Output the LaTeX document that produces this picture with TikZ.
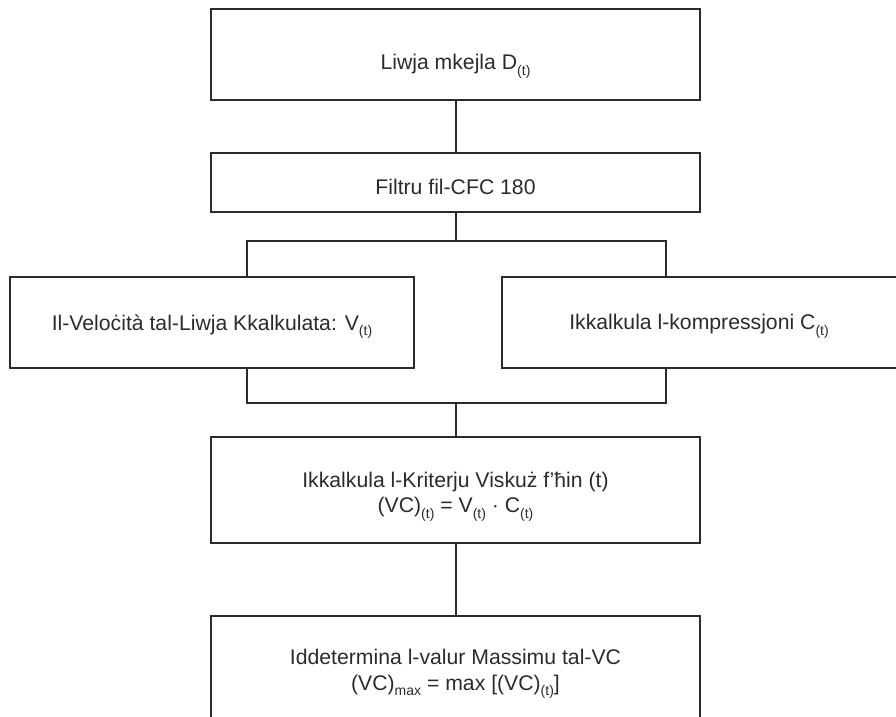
\documentclass[tikz,border=0pt]{standalone}
\usepackage{fontspec}
\setmainfont{Liberation Sans}
\usepackage{xcolor}
\usepackage{tikz}
\usetikzlibrary{positioning}
\definecolor{inkgray}{HTML}{2B2B2B}
\newcommand{\lowsub}[1]{\raisebox{-2.6pt}[0pt][0pt]{\fontsize{7}{8}\selectfont #1}}
\newcommand{\sinkby}[2]{\raisebox{-#1}[\height][\depth]{#2}}
\tikzset{flowbox/.style={rectangle, draw=inkgray, line width=1pt, text=inkgray, align=center, inner sep=0pt, font=\fontsize{10.6}{12.8}\selectfont}}

\begin{document}
\begin{tikzpicture}[x=0.5pt, y=-0.5pt]
\useasboundingbox (0,0) rectangle (896,717);

\begin{scope}[every node/.style={flowbox}]
\node[minimum width=244.5pt, minimum height=45.5pt] (track) at (455.5,54.5) {\sinkby{5pt}{Liwja mkejla D\lowsub{(t)}}};
\node[minimum width=244.5pt, minimum height=29.5pt] (filter) at (455.5,182.5) {\sinkby{2pt}{Filtru fil-CFC 180}};
\node[minimum width=202pt, minimum height=45.5pt] (velo) at (212,322.5) {\sinkby{1pt}{Il-Veloċità tal-Liwja Kkalkulata: V\lowsub{(t)}}};
\node[minimum width=200pt, minimum height=45.5pt] (compr) at (702,322.5) {\hspace*{-3pt}\sinkby{1pt}{Ikkalkula l-kompressjoni C\lowsub{(t)}}};
\node[minimum width=244.5pt, minimum height=53pt] (vcrit) at (455.5,490) {\sinkby{2.3pt}{Ikkalkula l-Kriterju Viskuż f’ħin (t)}\\\sinkby{2.3pt}{(VC)\lowsub{(t)} = V\lowsub{(t)} · C\lowsub{(t)}}};
\node[minimum width=244.5pt, minimum height=54pt] (vcmax) at (455.5,670) {\sinkby{1.1pt}{Iddetermina l-valur Massimu tal-VC}\\\sinkby{1.1pt}{(VC)\lowsub{max} = max [(VC)\lowsub{(t)}]}};
\end{scope}

% split and join points
\coordinate (splitL) at (247,241.5);
\coordinate (splitR) at (666,241.5);
\coordinate (joinL) at (247,403);
\coordinate (joinR) at (666,403);

\begin{scope}[draw=inkgray, line width=1pt]
\draw (track.south)--(filter.north);
\draw (filter.south)--(filter.south |- splitL);
\draw (splitL |- velo.north)--(splitL)--(splitR)--(splitR |- compr.north);
\draw (joinL |- velo.south)--(joinL)--(joinR)--(joinR |- compr.south);
\draw (vcrit.north |- joinL)--(vcrit.north);
\draw (vcrit.south)--(vcmax.north);
\end{scope}

\end{tikzpicture}
\end{document}
